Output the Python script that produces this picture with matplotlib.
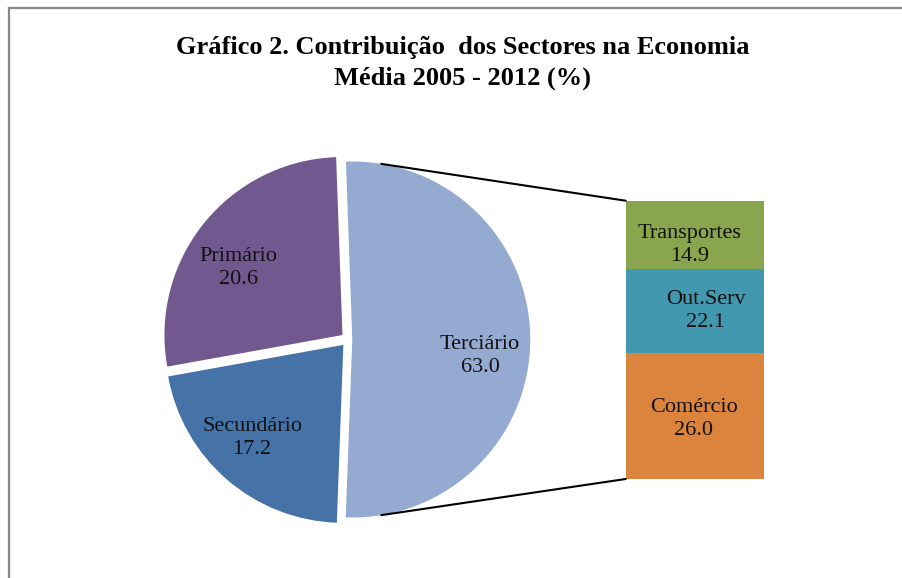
import numpy as np
import matplotlib.pyplot as plt
from matplotlib.patches import ConnectionPatch
from matplotlib.lines import Line2D

plt.rcParams['font.family'] = ['Liberation Serif', 'DejaVu Serif']

# pie: shares as drawn (degrees, in %), labels as printed
pie_names = ['Terciário', 'Primário', 'Secundário']
pie_shares = [51.2, 27.3, 21.6]
pie_values = [63.0, 20.6, 17.2]
pie_colors = ['#94aad0', '#71588f', '#4572a7']

# bar of the Terciário slice (bottom to top)
bar_names = ['Comércio', 'Out.Serv', 'Transportes']
bar_shares = [45.2, 30.3, 24.5]
bar_values = [26.0, 22.1, 14.9]
bar_colors = ['#db843d', '#4198af', '#89a54e']

W, H = 903, 578
fig = plt.figure(figsize=(W / 100, H / 100), dpi=100)

def px_axes(x0, y0, x1, y1):
    # pixel box (top-left origin) -> figure axes
    return fig.add_axes([x0 / W, 1 - y1 / H, (x1 - x0) / W, (y1 - y0) / H])

# pie axes, centre ~ (348, 339.5), radius ~178 px
R = 178.0
cx, cy = 348, 339.5
axp = px_axes(cx - 200, cy - 200, cx + 200, cy + 200)
wedges, _ = axp.pie(pie_shares, colors=pie_colors, startangle=-92.1,
                    explode=[0.024, 0.04, 0.04], radius=1,
                    wedgeprops=dict(linewidth=0))
lim = 200 / R
axp.set_xlim(-lim, lim)
axp.set_ylim(-lim, lim)
axp.axis('off')

# pie labels
label_pos = [(480, 356), (238, 268), (252, 438)]
for name, val, (lx, ly) in zip(pie_names, pie_values, label_pos):
    axp.text((lx - cx) / R, (cy - ly) / R, f'{name}\n{val:.1f}', ha='center',
             va='center', fontsize=16, linespacing=1.25, color='#111111')

# stacked bar
axb = px_axes(625.7, 200.7, 764.3, 479)
axb.axis('off')
bottom = 0
for name, share, val, col in zip(bar_names, bar_shares, bar_values, bar_colors):
    axb.bar(0, share, bottom=bottom, width=1, color=col, align='edge')
    bottom += share
axb.set_xlim(0, 1)
axb.set_ylim(0, sum(bar_shares))

bar_label_pos = [(694, 419), (706, 311), (690, 245)]
for name, val, (lx, ly) in zip(bar_names, bar_values, bar_label_pos):
    fig.text(lx / W, 1 - ly / H, f'{name}\n{val:.1f}', ha='center', va='center',
             fontsize=16, linespacing=1.25, color='#111111')

# connector lines from the Terciário arc to the bar corners
w0 = wedges[0]
wx, wy = w0.center
for ang, corner in [(80.6, (0, sum(bar_shares))), (-80.6, (0, 0))]:
    a = np.deg2rad(ang)
    con = ConnectionPatch(xyA=(wx + np.cos(a), wy + np.sin(a)), coordsA=axp.transData,
                          xyB=corner, coordsB=axb.transData, color='black', lw=1.5)
    fig.add_artist(con)

fig.text(463 / W, 1 - 63 / H, 'Gráfico 2. Contribuição  dos Sectores na Economia\nMédia 2005 - 2012 (%)',
         ha='center', va='center', fontsize=19, fontweight='bold', linespacing=1.42)

# chart frame (only top and left edges visible)
fig.add_artist(Line2D([9 / W, 1], [1 - 8 / H, 1 - 8 / H], color='#888888', lw=1.6))
fig.add_artist(Line2D([9 / W, 9 / W], [0, 1 - 8 / H], color='#888888', lw=1.6))

fig.savefig('out.png', dpi=100)
